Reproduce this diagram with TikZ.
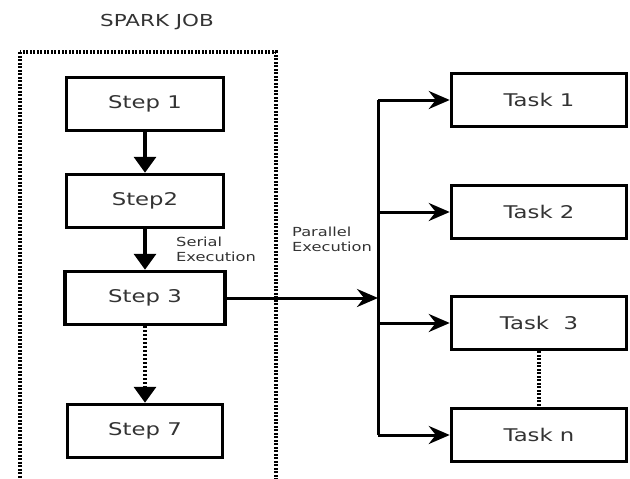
\documentclass[tikz,border=0pt]{standalone}
\usepackage{fontspec}
\setmainfont{DejaVu Sans}
\usetikzlibrary{positioning,arrows.meta}
\newcommand{\wtext}[1]{\scalebox{1.3}[1]{#1}}

\begin{document}
\begin{tikzpicture}[x=1pt,y=-1pt,
  main/.style = {draw, rectangle, line width=3.5pt, minimum width=157pt, minimum height=53pt, text=black!80, font=\fontsize{17.5}{20}\selectfont},
  task/.style = {main, minimum width=175pt},
  note/.style = {align=left, inner sep=0pt, text=black!80, font=\fontsize{12.5}{15}\selectfont},
  flow/.style = {line width=3.5pt, -{Triangle[width=22pt,length=16pt]}},
  par/.style = {line width=3pt, -{Stealth[width=18pt,length=21pt,inset=7pt]}},
  dots/.style = {line width=3.5pt, dash pattern=on 2pt off 1.5pt},
  node distance={97pt}]
\clip (0,0) rectangle (630,479);
\useasboundingbox (0,0) rectangle (630,479);
\node[note, font=\fontsize{16.5}{20}\selectfont] (job) at (157,22) {\wtext{SPARK JOB}};
\draw[dots] (20,52) rectangle (276,495);
\node[main] (s1) at (145,104) {\wtext{Step 1}};
\node[main] (s2) [below of=s1] {\wtext{Step2}};
\node[main, minimum width=160pt] (s3) [below of=s2] {\wtext{Step 3}};
\node[main, minimum width=155pt] (s7) [below of=s3, yshift=-36pt] {\wtext{Step 7}};
\node[task] (t1) at (539,100) {\wtext{Task 1}};
\node[task, node distance=112pt] (t2) [below of=t1] {\wtext{Task 2}};
\node[task, node distance=111pt] (t3) [below of=t2] {\wtext{Task\ \ 3}};
\node[task, node distance=112pt] (tn) [below of=t3] {\wtext{Task n}};
\node[note, anchor=north west] (serial) at (176,237) {\wtext{Serial}\\\wtext{Execution}};
\node[note, anchor=north west] (parallel) at (292,227) {\wtext{Parallel}\\\wtext{Execution}};
\coordinate (bus) at (378,101);
\draw[flow] (s1) -- (s2);
\draw[flow] (s2) -- (s3);
\draw[flow, dash pattern=on 2pt off 2pt] (s3) -- (s7);
\draw[line width=3pt] (bus |- t1) -- (bus |- tn);
\draw[par] (s3.east) -- (s3.east -| bus);
\draw[par] (bus |- t1) -- (t1);
\draw[par] (bus |- t2) -- (t2);
\draw[par] (bus |- t3) -- (t3);
\draw[par] (bus |- tn) -- (tn);
\draw[dots] (t3) -- (tn);
\end{tikzpicture}
\end{document}
